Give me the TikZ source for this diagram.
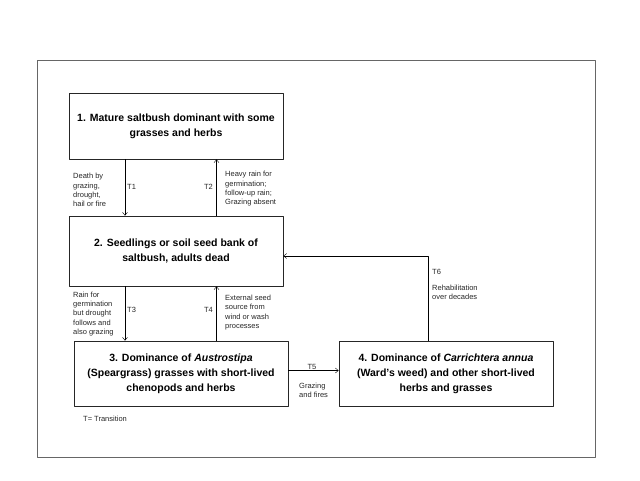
\documentclass[tikz,border=0pt]{standalone}
\usepackage{fontspec}
\setmainfont{Liberation Sans}
\usetikzlibrary{arrows.meta}
\tikzset{
  statebox/.style={draw=black!85,line width=.7pt,minimum width=214pt,align=center,
    font=\fontsize{10.5}{15}\selectfont\bfseries,inner sep=0pt},
  note/.style={font=\fontsize{7.5}{9.3}\selectfont,align=left,inner sep=0pt,text=black!85},
}
\begin{document}
\begin{tikzpicture}[x=1pt,y=-1pt,>={Straight Barb[length=3pt,width=5pt]},line join=round]
            \useasboundingbox (0,0) rectangle (640,480);
            \draw[black!60,line width=.6pt] (37,60) rectangle (595,457);
            % states
            \node[statebox,minimum height=66pt] (b1) at (176,126) {1. Mature saltbush dominant with some\\grasses and herbs};
            \node[statebox,minimum height=70pt] (b2) at (176,251) {2. Seedlings or soil seed bank of\\saltbush, adults dead};
            \node[statebox,minimum height=65pt] (b3) at (181,373.5) {3. Dominance of \textit{Austrostipa}\\(Speargrass) grasses with short-lived\\chenopods and herbs};
            \node[statebox,minimum height=65pt] (b4) at (446,373.5) {4. Dominance of \textit{Carrichtera annua}\\(Ward's weed) and other short-lived\\herbs and grasses};
            % transitions
            \draw[->,thin] ([xshift=-51pt]b1.south) -- ([xshift=-51pt]b2.north);
            \draw[->,thin] ([xshift=40.5pt]b2.north) -- ([xshift=40.5pt]b1.south);
            \draw[->,thin] ([xshift=-51pt]b2.south) -- ([xshift=-51pt]b2.south |- b3.north);
            \draw[->,thin] ([xshift=40.5pt]b2.south |- b3.north) -- ([xshift=40.5pt]b2.south);
            \draw[->,thin] ([yshift=3pt]b3.east) -- ([yshift=3pt]b3.east -| b4.west);
            \draw[->,thin] ([xshift=-18pt]b4.north) |- ([yshift=-5pt]b2.east);
            % labels
            \node[note,anchor=west] (l1) at (73,190) {Death by\\grazing,\\drought,\\hail or fire};
            \node[note,anchor=west] (t1) at (127,187) {T1};
            \node[note,anchor=east] (t2) at (213,187) {T2};
            \node[note,anchor=west] (l2) at (225,189) {Heavy rain for\\germination;\\follow-up rain;\\Grazing absent};
            \node[note,anchor=west] (l3) at (73,314) {Rain for\\germination\\but drought\\follows and\\also grazing};
            \node[note,anchor=west] (t3) at (127,310) {T3};
            \node[note,anchor=east] (t4) at (213,310) {T4};
            \node[note,anchor=west] (l4) at (225,312.5) {External seed\\source from\\wind or wash\\processes};
            \node[note] (t5) at (312,367) {T5};
            \node[note,anchor=west] (l5) at (299,390.5) {Grazing\\and fires};
            \node[note,anchor=west] (t6) at (432,272) {T6};
            \node[note,anchor=west] (l6) at (432,292.5) {Rehabilitation\\over decades};
            \node[note,anchor=west] (key) at (83,419) {T= Transition};
\end{tikzpicture}
\end{document}
